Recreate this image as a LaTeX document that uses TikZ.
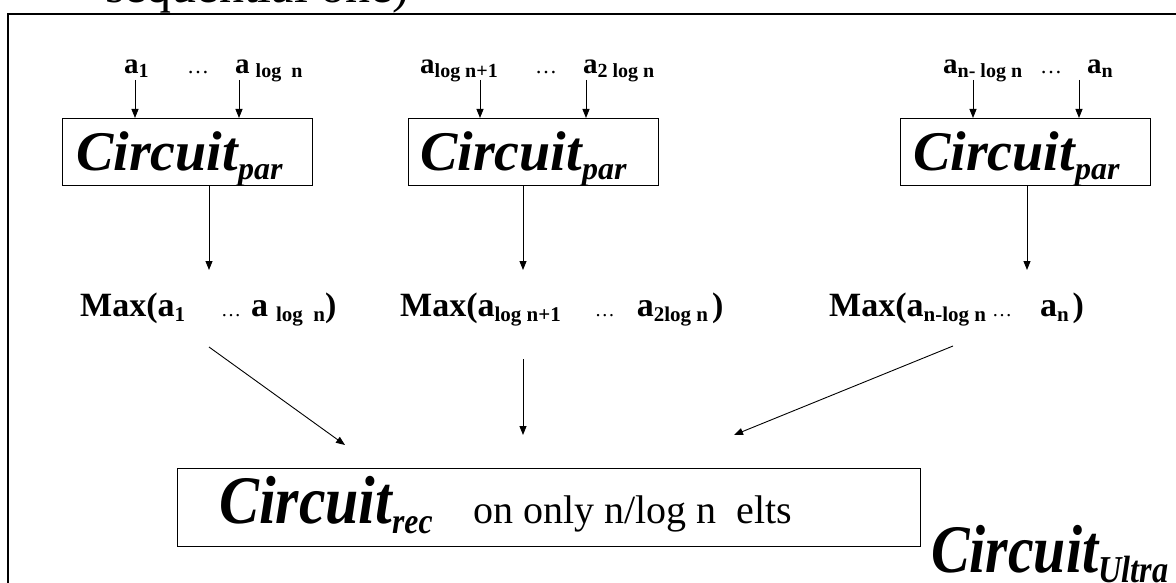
\documentclass[tikz,border=0pt]{standalone}
\usepackage{fontspec}
\usepackage{graphicx}
\setmainfont{Liberation Serif}
\usetikzlibrary{arrows.meta}
\newcommand{\fs}[1]{\fontsize{#1}{#1}\selectfont}
\newcommand{\lowsub}[3]{\raisebox{-#1}{\fontsize{#2}{#2}\selectfont #3}}
\tikzset{
  lbl/.style={inner sep=0pt, anchor=base west, font=\bfseries\fs{29}},
  maxlbl/.style={inner sep=0pt, anchor=base west, font=\bfseries\fs{34}},
  dots/.style={inner sep=0pt, anchor=base west, font=\fs{22}},
  pbox/.style={draw, line width=1.3pt, inner sep=0pt, minimum width=250pt, minimum height=67pt, anchor=north west},
  arr/.style={line width=0.9pt, -{Triangle[length=9pt,width=7pt]}},
  ckt/.style={inner sep=0pt, anchor=base west}
}
\begin{document}
\begin{tikzpicture}[x=1pt,y=-1pt]
\useasboundingbox (0,0) rectangle (1176,583);
\clip (0,0) rectangle (1176,583);
% clipped title fragment
\node[ckt, font=\fs{50}] (title) at (105,3) {sequential one)};
% outer frame
\draw[line width=1.5pt] (8,1000) -- (8,14) -- (1300,14);
% input labels
\node[lbl] (l1a) at (124,74) {a\lowsub{4pt}{20}{1}};
\node[dots] (l1d) at (187,74) {…};
\node[lbl] (l1b) at (235,74) {a\hspace{6pt}\lowsub{4pt}{20}{log\ \ n}};
\node[lbl] (l2a) at (420,74) {a\lowsub{4pt}{20}{log n+1}};
\node[dots] (l2d) at (535,74) {…};
\node[lbl] (l2b) at (583,74) {a\lowsub{4pt}{20}{2 log n}};
\node[lbl] (l3a) at (943,74) {a\lowsub{4pt}{20}{n- log n}};
\node[dots] (l3d) at (1040,74) {…};
\node[lbl] (l3b) at (1087,74) {a\lowsub{4pt}{20}{n}};
% boxes
\node[pbox] (p1) at (62,118) {};
\node[pbox] (p2) at (408,118) {};
\node[pbox] (p3) at (900,118) {};
\node[ckt] (c1) at (76,171) {\bfseries\itshape\fs{56}Circuit\lowsub{9pt}{32}{par}};
\node[ckt] (c2) at (420,171) {\bfseries\itshape\fs{56}Circuit\lowsub{9pt}{32}{par}};
\node[ckt] (c3) at (913,171) {\bfseries\itshape\fs{56}Circuit\lowsub{9pt}{32}{par}};
% input arrows
\coordinate (i11) at (135,80); \coordinate (i12) at (239,80);
\coordinate (i21) at (480,80); \coordinate (i22) at (586,80);
\coordinate (i31) at (973,80); \coordinate (i32) at (1079,80);
\draw[arr] (i11) -- (i11 |- p1.north);
\draw[arr] (i12) -- (i12 |- p1.north);
\draw[arr] (i21) -- (i21 |- p2.north);
\draw[arr] (i22) -- (i22 |- p2.north);
\draw[arr] (i31) -- (i31 |- p3.north);
\draw[arr] (i32) -- (i32 |- p3.north);
% max labels
\node[maxlbl] (m1) at (80,316) {Max(a\lowsub{5pt}{21}{1}\hspace{36pt}{\mdseries\fs{20}…}\hspace{10pt}a\hspace{8pt}\lowsub{5pt}{21}{log\ \ n})};
\node[maxlbl] (m2) at (400,316) {Max(a\lowsub{5pt}{21}{log n+1}\hspace{34pt}{\mdseries\fs{20}…}\hspace{22pt}a\lowsub{5pt}{21}{2log n}\hspace{4pt})};
\node[maxlbl] (m3) at (829,316) {Max(a\lowsub{5pt}{21}{n-log n}\hspace{6pt}{\mdseries\fs{20}…}\hspace{28pt}a\lowsub{5pt}{21}{n}\hspace{4pt})};
% box output arrows
\coordinate (o1) at (209,270); \coordinate (o2) at (523,270); \coordinate (o3) at (1027,270);
\draw[arr] (p1.south -| o1) -- (o1);
\draw[arr] (p2.south -| o2) -- (o2);
\draw[arr] (p3.south -| o3) -- (o3);
% recursive box
\node[draw, line width=1.3pt, inner sep=0pt, minimum width=743pt, minimum height=78pt, anchor=north west] (rec) at (177,468) {};
\node[ckt] (crec) at (219,523) {\scalebox{0.88}[1]{\bfseries\itshape\fs{68}Circuit\lowsub{10pt}{36}{rec}}};
\node[ckt, font=\fs{40}] (crect) at (473,523) {on only n/log n\ \ elts};
% arrows to rec
\coordinate (d1s) at (209,347); \coordinate (d1e) at (345,445);
\coordinate (d2s) at (523,359); \coordinate (d2e) at (523,435);
\coordinate (d3s) at (953,346); \coordinate (d3e) at (734,435);
\draw[arr] (d1s) -- (d1e);
\draw[arr] (d2s) -- (d2e);
\draw[arr] (d3s) -- (d3e);
% ultra
\node[ckt] (cult) at (931,572) {\scalebox{0.85}[1]{\bfseries\itshape\fs{68}Circuit\lowsub{10pt}{38}{Ultra}}};
\end{tikzpicture}
\end{document}
